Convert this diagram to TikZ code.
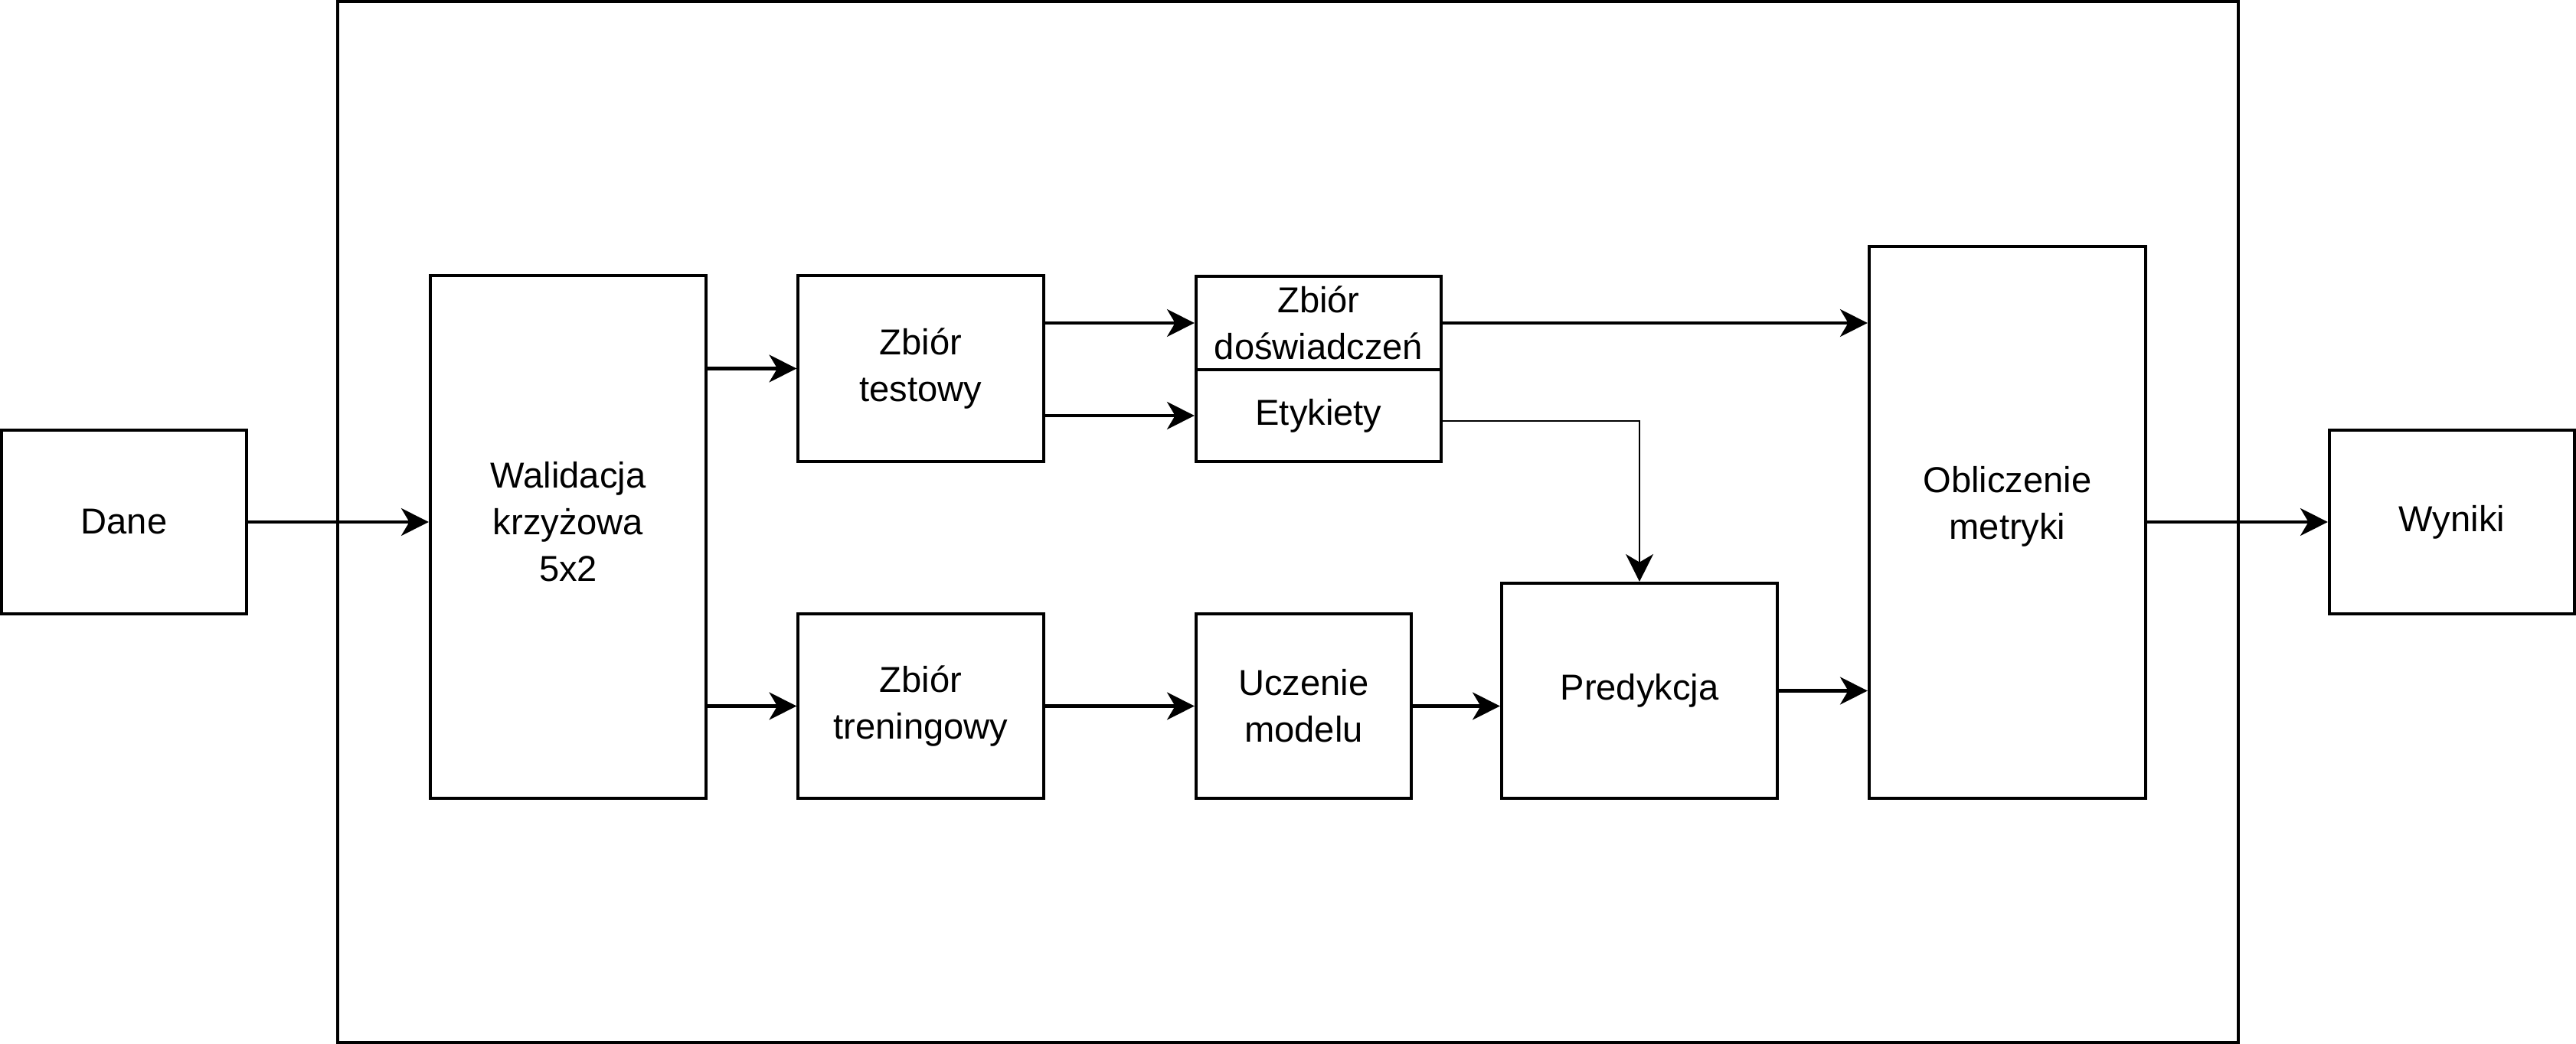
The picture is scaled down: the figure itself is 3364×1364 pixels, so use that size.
\documentclass[tikz,border=0pt]{standalone}
\usepackage{fontspec}
\setmainfont{Liberation Sans}
\usetikzlibrary{arrows.meta,positioning,calc}
\tikzset{
    box/.style={
        draw,
        line width=1.15pt,
        align=center,
        inner sep=0pt,
        font=\fontsize{13.4}{17.35}\selectfont
    },
    txt/.style={
        align=center,
        inner sep=0pt,
        font=\fontsize{13.4}{17.35}\selectfont
    },
    arrow/.style={
        -{Stealth[length=10.2pt,width=10.2pt,inset=3pt]},
        line width=1.15pt
    },
    thinarrow/.style={
        -{Stealth[length=10.2pt,width=10.2pt,inset=3pt]},
        line width=0.7pt
    }
}

\begin{document}
\begin{tikzpicture}[x=0.01cm,y=-0.01cm]
\useasboundingbox (0,0) rectangle (3364,1364);

\node[box, minimum width=24.8cm, minimum height=13.6cm] (frame) at (1682,682) {};

\node[box, minimum width=3.2cm, minimum height=2.4cm] (dane) at (162,682) {Dane};
\node[box, minimum width=3.6cm, minimum height=6.83cm] (walid) at (742,701.5) {};
\node[txt] (walidtxt) at (walid.center |- dane) {Walidacja\\krzyżowa\\5x2};

\node[box, minimum width=3.2cm, minimum height=2.43cm] (test) at (1202.5,481.5) {Zbiór\\testowy};
\node[box, minimum width=3.2cm, minimum height=2.41cm] (train) at (1202.5,922.5) {Zbiór\\treningowy};

\node[box, minimum width=3.2cm, minimum height=1.21cm] (dosw) at (1722,422) {Zbiór\\doświadczeń};
\node[box, minimum width=3.2cm, minimum height=1.2cm] (etyk) at (1722,543) {Etykiety};
\node[box, minimum width=2.81cm, minimum height=2.41cm] (ucz) at (1702.5,922.5) {Uczenie\\modelu};

\node[box, minimum width=3.6cm, minimum height=2.81cm] (pred) at (2141,902.5) {Predykcja};
\node[box, minimum width=3.61cm, minimum height=7.21cm] (oblicz) at (2621.5,682.5) {};
\node[txt] (obliczttxt) at (2621.5,662) {Obliczenie\\metryki};

\node[box, minimum width=3.2cm, minimum height=2.4cm] (wyniki) at (3202,682) {Wyniki};

\draw[arrow] (dane.east) -- (dane.east -| walid.west);
\draw[arrow] (test.west -| walid.east) -- (test.west);
\draw[arrow] (train.west -| walid.east) -- (train.west);
\draw[arrow] (dosw.west -| test.east) -- (dosw.west);
\draw[arrow] (etyk.west -| test.east) -- (etyk.west);
\draw[arrow] (dosw.east) -- (dosw.east -| oblicz.west);
\draw[thinarrow] ([yshift=-2pt]etyk.east) -| (pred.north);
\draw[arrow] (train.east) -- (ucz.west);
\draw[arrow] (ucz.east) -- (ucz.east -| pred.west);
\draw[arrow] (pred.east) -- (pred.east -| oblicz.west);
\draw[arrow] (oblicz.east |- wyniki.west) -- (wyniki.west);

\end{tikzpicture}
\end{document}
